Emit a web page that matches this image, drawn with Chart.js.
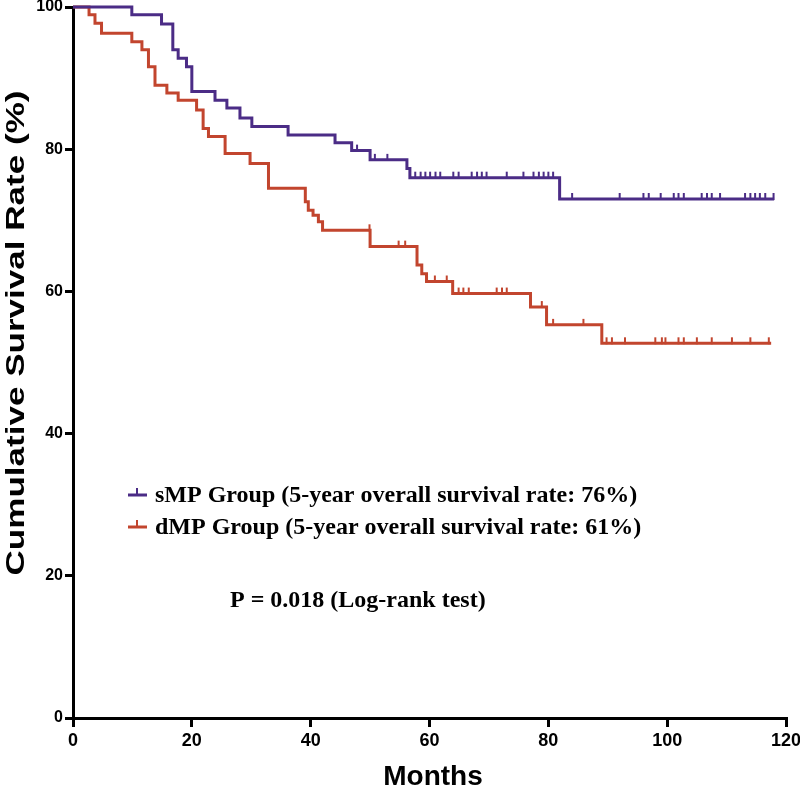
<!DOCTYPE html>
<html><head><meta charset="utf-8">
<script src="https://cdn.jsdelivr.net/npm/chart.js@4/dist/chart.umd.min.js"></script>
<style>html,body{margin:0;padding:0;background:#fff}#wrap{width:800px;height:786px}</style>
</head><body><div id="wrap"><canvas id="c" width="800" height="786"></canvas></div>
<script>
// ---- data ----
const sMPTimes    = [0, 9.9, 14.9, 16.8, 17.7, 19.1, 20.0, 23.9, 25.9, 28.1, 30.1, 36.2, 44.1, 46.9, 50.0, 56.2, 56.7, 81.9, 118];
const sMPSurvival = [100, 98.9, 97.6, 94.0, 92.8, 91.6, 88.1, 86.9, 85.8, 84.4, 83.2, 82.0, 80.9, 79.8, 78.5, 77.3, 76.0, 73.0, 73.0];
const sMPCensored = [47.8, 50.8, 52.9, 57.6, 58.5, 59.3, 60.1, 61.0, 61.8, 64.0, 64.9, 67.1, 68.0, 68.8, 69.6, 73.0, 75.8, 77.5, 78.4, 79.2, 80.0, 80.8, 84.0, 92.0, 96.0, 96.9, 98.9, 101.1, 101.9, 102.8, 105.8, 106.7, 107.5, 108.9, 113.1, 114.0, 114.8, 115.6, 116.5, 117.9];

const dMPTimes    = [0, 2.7, 3.7, 4.8, 9.9, 11.6, 12.7, 13.8, 15.8, 17.7, 20.8, 21.9, 22.8, 25.6, 29.8, 32.9, 39.1, 39.6, 40.4, 41.3, 42.0, 50.0, 57.9, 58.7, 59.5, 63.9, 77.0, 79.7, 89.0, 117.5];
const dMPSurvival = [100, 98.9, 97.7, 96.3, 95.1, 94.0, 91.6, 89.0, 87.9, 86.9, 85.5, 82.9, 81.8, 79.4, 78.0, 74.5, 72.6, 71.4, 70.7, 69.8, 68.6, 66.3, 63.7, 62.5, 61.4, 59.7, 57.8, 55.3, 52.7, 52.7];
const dMPCensored = [49.9, 54.8, 55.9, 60.9, 62.9, 64.9, 65.7, 66.6, 71.3, 72.2, 73.0, 78.9, 80.8, 85.9, 89.8, 90.7, 92.9, 98.0, 99.1, 99.7, 101.9, 102.8, 105.0, 107.5, 110.9, 114.0, 117.1];

const xTicks = [0, 20, 40, 60, 80, 100, 120];
const yTicks = [0, 20, 40, 60, 80, 100];
const seriesNames = ['sMP Group (5-year overall survival rate: 76%)', 'dMP Group (5-year overall survival rate: 61%)'];
const pValueText = 'P = 0.018 (Log-rank test)';
const xTitle = 'Months';
const yTitle = 'Cumulative Survival Rate (%)';

// ---- styling ----
const COLORS = ['#4b2c86', '#c2452e'];

function stepValue(times, surv, t) {
  let v = surv[0];
  for (let i = 0; i < times.length; i++) { if (times[i] <= t) v = surv[i]; }
  return v;
}
function tickImage(color) {
  const c = document.createElement('canvas');
  c.width = 4; c.height = 14;
  const g = c.getContext('2d');
  g.fillStyle = color;
  g.fillRect(1, 1, 2, 7);
  return c;
}

const sLine = sMPTimes.map((t, i) => ({x: t, y: sMPSurvival[i]}));
const dLine = dMPTimes.map((t, i) => ({x: t, y: dMPSurvival[i]}));
const sCens = sMPCensored.map(t => ({x: t, y: stepValue(sMPTimes, sMPSurvival, t)}));
const dCens = dMPCensored.map(t => ({x: t, y: stepValue(dMPTimes, dMPSurvival, t)}));

const overlay = {
  id: 'overlay',
  afterDraw(chart) {
    const ctx = chart.ctx;
    ctx.save();
    const rows = [495, 527];
    rows.forEach((y, i) => {
      ctx.strokeStyle = COLORS[i];
      ctx.lineWidth = 3;
      ctx.beginPath(); ctx.moveTo(128, y); ctx.lineTo(147, y); ctx.stroke();
      ctx.fillStyle = COLORS[i];
      ctx.fillRect(136, y - 7, 2, 7);
      ctx.fillStyle = '#000';
      ctx.font = 'bold 24px "Liberation Serif", "Times New Roman", serif';
      ctx.textAlign = 'left';
      ctx.textBaseline = 'middle';
      ctx.fillText(seriesNames[i], 155, y + 1);
    });
    ctx.fillText(pValueText, 230, 601);
    ctx.font = 'bold 28px "Liberation Sans", Arial, sans-serif';
    ctx.textAlign = 'center';
    ctx.textBaseline = 'alphabetic';
    ctx.fillStyle = '#000';
    ctx.fillText(xTitle, 433, 785);
    ctx.font = 'bold 26px "Liberation Sans", Arial, sans-serif';
    const w = ctx.measureText(yTitle).width;
    const target = 485;
    ctx.translate(24, 333);
    ctx.rotate(-Math.PI / 2);
    ctx.scale(target / w, 1);
    ctx.textAlign = 'center';
    ctx.fillText(yTitle, 0, 0);
    ctx.restore();
  }
};

new Chart(document.getElementById('c'), {
  type: 'scatter',
  data: {
    datasets: [
      {data: sLine, showLine: true, stepped: 'before', borderColor: COLORS[0], borderWidth: 3, pointRadius: 0, clip: false},
      {data: dLine, showLine: true, stepped: 'before', borderColor: COLORS[1], borderWidth: 3, pointRadius: 0, clip: false},
      {data: sCens, showLine: false, pointStyle: tickImage(COLORS[0]), pointRadius: 3, clip: false},
      {data: dCens, showLine: false, pointStyle: tickImage(COLORS[1]), pointRadius: 3, clip: false}
    ]
  },
  options: {
    responsive: false,
    animation: false,
    devicePixelRatio: 1,
    layout: {padding: {top: 7, right: 14, left: 0, bottom: 0}},
    plugins: {legend: {display: false}, tooltip: {enabled: false}},
    scales: {
      x: {
        type: 'linear', min: 0, max: 120,
        afterBuildTicks: s => { s.ticks = xTicks.map(v => ({value: v})); },
        afterFit: s => { s.height = 68; s.paddingLeft = 0; s.paddingRight = 0; },
        ticks: {color: '#000', padding: 3, font: {family: '"Liberation Sans", Arial, sans-serif', weight: 'bold', size: 18}},
        border: {color: '#000', width: 3},
        grid: {drawOnChartArea: false, color: '#000', lineWidth: 3, tickLength: 9}
      },
      y: {
        type: 'linear', min: 0, max: 100,
        afterBuildTicks: s => { s.ticks = yTicks.map(v => ({value: v})); },
        afterFit: s => { s.width = 73; s.paddingTop = 0; s.paddingBottom = 0; },
        ticks: {color: '#000', padding: 2, font: {family: '"Liberation Sans", Arial, sans-serif', weight: 'bold', size: 16}},
        border: {color: '#000', width: 3},
        grid: {drawOnChartArea: false, color: '#000', lineWidth: 3, tickLength: 8}
      }
    }
  },
  plugins: [overlay]
});
</script></body></html>
